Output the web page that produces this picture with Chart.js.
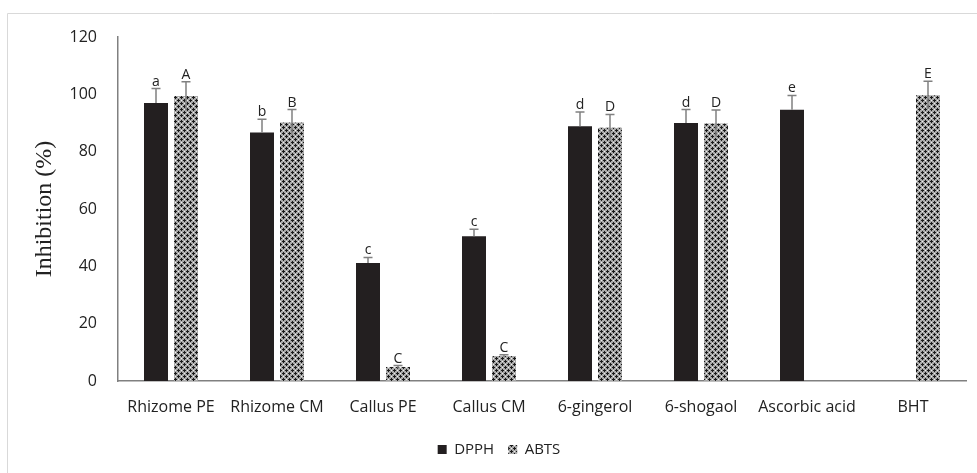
<!DOCTYPE html>
<html>
<head>
<meta charset="utf-8">
<script src="https://cdn.jsdelivr.net/npm/chart.js@4"></script>
<style>
  html, body { margin: 0; padding: 0; background: #fff; }
  #wrap { position: relative; width: 977px; height: 473px; }
</style>
</head>
<body>
<div id="wrap"><canvas id="inhibitionChart" width="977" height="473"></canvas></div>
<script>
// data
var categories = ['Rhizome PE', 'Rhizome CM', 'Callus PE', 'Callus CM', '6-gingerol', '6-shogaol', 'Ascorbic acid', 'BHT'];
var dpph = [97.0, 86.7, 41.2, 50.5, 88.9, 90.0, 94.6, null];
var dpphErr = [5.0, 4.6, 1.9, 2.4, 4.9, 4.7, 5.0, null];
var abts = [99.4, 90.2, 4.9, 8.7, 88.3, 89.8, null, 99.7];
var abtsErr = [5.0, 4.5, 0.5, 0.5, 4.7, 4.7, null, 4.9];
var dpphLetters = ['a', 'b', 'c', 'c', 'd', 'd', 'e', ''];
var abtsLetters = ['A', 'B', 'C', 'C', 'D', 'D', '', 'E'];
var yTicks = [0, 20, 40, 60, 80, 100, 120];

var FONT = "'Open Sans', sans-serif";

// crossed-diamond fill like the Excel pattern
function makePattern() {
  var c = document.createElement('canvas');
  c.width = 6; c.height = 6;
  var p = c.getContext('2d');
  p.fillStyle = '#a8a8a8';
  p.fillRect(0, 0, 6, 6);
  p.fillStyle = '#1a1a1a';
  // plus shapes centred at (1,1) and (4,4)
  [[1, 1], [4, 4]].forEach(function (pt) {
    p.fillRect(pt[0] - 1, pt[1], 3, 1);
    p.fillRect(pt[0], pt[1] - 1, 1, 3);
  });
  p.fillStyle = '#f0f0f0';
  p.fillRect(4, 1, 1, 1);
  p.fillRect(1, 4, 1, 1);
  return document.createElement('canvas').getContext('2d').createPattern(c, 'repeat');
}
var abtsFill = makePattern();

// error bars + significance letters
var errorBarPlugin = {
  id: 'errorBars',
  afterDatasetsDraw: function (chart) {
    var ctx = chart.ctx;
    var y = chart.scales.y;
    var errs = [dpphErr, abtsErr];
    var letters = [dpphLetters, abtsLetters];
    ctx.save();
    ctx.strokeStyle = '#808080';
    ctx.lineWidth = 1.5;
    ctx.fillStyle = '#222';
    ctx.font = '14px ' + FONT;
    ctx.textAlign = 'center';
    ctx.textBaseline = 'alphabetic';
    chart.data.datasets.forEach(function (ds, di) {
      var meta = chart.getDatasetMeta(di);
      meta.data.forEach(function (bar, i) {
        var v = ds.data[i];
        var e = errs[di][i];
        if (v == null || e == null) return;
        var x = bar.x;
        var yTop = y.getPixelForValue(v + e);
        var yBot = di === 1 ? y.getPixelForValue(v - e) : bar.y;
        ctx.beginPath();
        ctx.moveTo(x, yBot);
        ctx.lineTo(x, yTop);
        ctx.moveTo(x - 4.5, yTop);
        ctx.lineTo(x + 4.5, yTop);
        ctx.stroke();
        if (letters[di][i]) ctx.fillText(letters[di][i], x, yTop - 3);
      });
    });
    ctx.restore();
  }
};

// light frame around the chart area (left and top edges visible)
var framePlugin = {
  id: 'frame',
  beforeDraw: function (chart) {
    var ctx = chart.ctx;
    ctx.save();
    ctx.strokeStyle = '#d9d9d9';
    ctx.lineWidth = 1;
    ctx.beginPath();
    ctx.moveTo(7.5, 473);
    ctx.lineTo(7.5, 13.5);
    ctx.lineTo(977, 13.5);
    ctx.stroke();
    ctx.restore();
  }
};

// legend sits a bit right of canvas centre in the original
var legendShift = {
  id: 'legendShift',
  afterLayout: function (chart) {
    chart.legend.left += 16;
    chart.legend.right += 16;
  }
};

new Chart(document.getElementById('inhibitionChart').getContext('2d'), {
  type: 'bar',
  data: {
    labels: categories,
    datasets: [
      {
        label: 'DPPH',
        data: dpph,
        backgroundColor: '#231f20',
        borderWidth: 0,
        categoryPercentage: 0.566,
        barPercentage: 0.8
      },
      {
        label: 'ABTS',
        data: abts,
        backgroundColor: abtsFill,
        borderWidth: 0,
        categoryPercentage: 0.566,
        barPercentage: 0.8
      }
    ]
  },
  plugins: [framePlugin, errorBarPlugin, legendShift],
  options: {
    responsive: false,
    animation: false,
    layout: { padding: { top: 37, right: 11, bottom: 6, left: 0 } },
    plugins: {
      legend: {
        position: 'bottom',
        labels: {
          color: '#222',
          font: { family: FONT, size: 15 },
          boxWidth: 9,
          boxHeight: 9,
          padding: 14
        }
      },
      tooltip: { enabled: false }
    },
    scales: {
      x: {
        grid: { display: false },
        border: { display: true, color: '#808080', width: 1.5 },
        ticks: { color: '#222', font: { family: FONT, size: 16 }, maxRotation: 0, padding: 9 },
        afterFit: function (s) { s.height = 47; }
      },
      y: {
        min: 0,
        max: 120,
        afterBuildTicks: function (s) { s.ticks = yTicks.map(function (v) { return { value: v }; }); },
        grid: { display: false },
        border: { display: true, color: '#808080', width: 1.5 },
        ticks: { color: '#222', font: { family: FONT, size: 16 }, padding: 13 },
        title: {
          display: true,
          text: 'Inhibition (%)',
          color: '#222',
          font: { family: "'Liberation Serif', serif", size: 24 },
          padding: { top: 30, bottom: 0 }
        },
        afterFit: function (s) { s.width = 118; }
      }
    }
  }
});
</script>
</body>
</html>
